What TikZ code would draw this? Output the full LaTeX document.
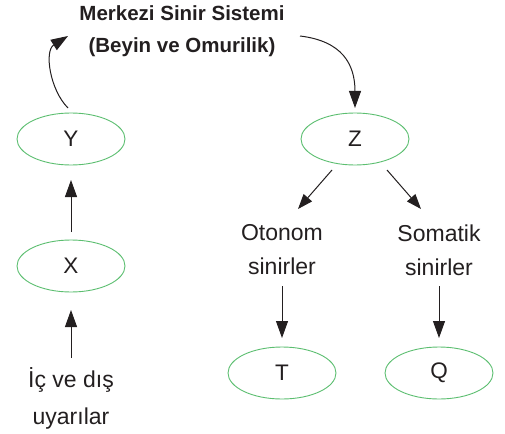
\documentclass[tikz,border=0pt]{standalone}
\usepackage{fontspec}
\setmainfont{Liberation Sans}
\usetikzlibrary{arrows.meta,shapes.geometric}
\definecolor{ellgreen}{RGB}{92,190,112}
\definecolor{txt}{RGB}{35,31,32}
\begin{document}
\begin{tikzpicture}[x=1pt,y=-1pt,
  ell/.style={draw=ellgreen, line width=0.9pt, ellipse, minimum width=108pt, minimum height=52pt, inner sep=0pt, text=txt, font=\fontsize{22.5}{25}\selectfont},
  lbl/.style={align=center, text=txt, font=\fontsize{23}{34}\selectfont, inner sep=0pt},
  arr/.style={draw=txt, line width=1pt, -{Triangle[length=17pt,width=12pt]}},
  darr/.style={draw=txt, line width=1pt, -{Triangle[length=15pt,width=11pt]}}]
\useasboundingbox (0,0) rectangle (505,433);
\node[lbl, font=\bfseries\fontsize{20.5}{32}\selectfont] (cns) at (182,31) {Merkezi Sinir Sistemi\\(Beyin ve Omurilik)};
\node[ell] (Y) at (71,139) {Y};
\node[ell] (Z) at (355,139) {Z};
\node[ell] (X) at (71,266) {X};
\node[ell] (T) at (282,373) {T};
\node[ell] (Q) at (439,373) {Q};
\node[lbl] (oto) at (282,250) {Otonom\\sinirler};
\node[lbl] (som) at (439,250) {Somatik\\sinirler};
\node[lbl, font=\fontsize{23}{37}\selectfont] (stim) at (71,398) {İç ve dış\\uyarılar};
\draw[arr] ([shift={(0,-40)}]stim.center) -- ([shift={(0,44)}]X.center);
\draw[arr] ([shift={(0,-34)}]X.center) -- ([shift={(0,41)}]Y.center);
\draw[arr] ([shift={(-3,-31)}]Y.center) .. controls ([shift={(-21,-49)}]Y.center) and ([shift={(-138,20)}]cns.center) .. ([shift={(-114,5)}]cns.center);
\draw[arr] ([shift={(118,5)}]cns.center) .. controls ([shift={(160,10)}]cns.center) and ([shift={(0,-75)}]Z.center) .. ([shift={(0,-31)}]Z.center);
\draw[darr] ([shift={(-23,31)}]Z.center) -- ([shift={(16,-41)}]oto.center);
\draw[darr] ([shift={(32,31)}]Z.center) -- ([shift={(-18,-41)}]som.center);
\draw[arr] ([shift={(0,36)}]oto.center) -- ([shift={(0,-35)}]T.center);
\draw[arr] ([shift={(0,36)}]som.center) -- ([shift={(0,-35)}]Q.center);
\end{tikzpicture}
\end{document}
